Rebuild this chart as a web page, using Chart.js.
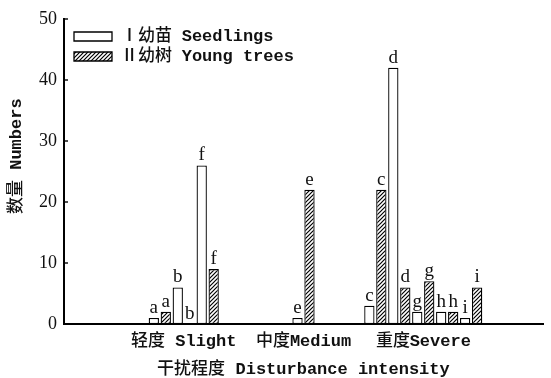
<!DOCTYPE html>
<html>
<head>
<meta charset="utf-8">
<script src="https://cdn.jsdelivr.net/npm/chart.js@4.4.1/dist/chart.umd.min.js"></script>
<style>
  /* Medium-weight CJK face served for bold requests, so bold Latin sits beside lighter Han glyphs */
  @font-face {
    font-family: 'HanMedium';
    src: local('Noto Sans CJK SC Medium'), local('NotoSansCJKsc-Medium'), local('Noto Sans CJK SC Regular'), local('NotoSansCJKsc-Regular');
    font-weight: 700;
  }
  html, body { margin: 0; padding: 0; background: #fff; }
  #wrap { width: 551px; height: 378px; }
</style>
</head>
<body>
<div id="wrap"><canvas id="c" width="551" height="378"></canvas></div>
<script>
// Slots along the x axis; each slot holds one seedling / young-tree pair.
const slots = ['', '', '', '', '', '轻度 Slight', '', '', '', '', '中度Medium', '', '', '', '', '重度Severe', '', '', '', '', ''];
const seedlings  = [null, null, null, null, 1, 6, 26, null, null, null, 1, null, null, 3, 42, 2, 2, 1, null, null, null];
const youngTrees = [null, null, null, null, 2, 0, 9, null, null, null, 22, null, null, 22, 6, 7, 2, 6, null, null, null];
const seedlingLetters  = ['', '', '', '', 'a', 'b', 'f', '', '', '', 'e', '', '', 'c', 'd', 'g', 'h', 'i', '', '', ''];
const youngTreeLetters = ['', '', '', '', 'a', 'b', 'f', '', '', '', 'e', '', '', 'c', 'd', 'g', 'h', 'i', '', '', ''];
const yTicks = [0, 10, 20, 30, 40, 50];

const seriesNames = ['Ⅰ幼苗 Seedlings', 'Ⅱ幼树 Young trees'];
const xTitle = '干扰程度 Disturbance intensity';
const yTitle = '   数量 Numbers';

const INK = '#111';
const mixedFont = "'Liberation Mono', 'HanMedium', 'Noto Sans CJK SC', monospace";
const serifFont = "'Liberation Serif', 'DejaVu Serif', serif";
const textFont = { family: mixedFont, size: 17, weight: 'bold' };

// Diagonal hatch used for the young-tree bars
function makeHatch() {
  const t = document.createElement('canvas');
  t.width = 4; t.height = 4;
  const g = t.getContext('2d');
  g.fillStyle = '#fff';
  g.fillRect(0, 0, 4, 4);
  g.strokeStyle = '#000';
  g.lineWidth = 1.2;
  g.beginPath();
  g.moveTo(0, 4); g.lineTo(4, 0);
  g.moveTo(-1, 1); g.lineTo(1, -1);
  g.moveTo(3, 5); g.lineTo(5, 3);
  g.stroke();
  return g.createPattern(t, 'repeat');
}

// Letters written above each bar
const letterPlugin = {
  id: 'barLetters',
  afterDatasetsDraw(chart) {
    const ctx = chart.ctx;
    ctx.save();
    ctx.font = '19px ' + serifFont;
    ctx.fillStyle = INK;
    ctx.textAlign = 'center';
    ctx.textBaseline = 'alphabetic';
    [seedlingLetters, youngTreeLetters].forEach((letters, di) => {
      const meta = chart.getDatasetMeta(di);
      meta.data.forEach((bar, i) => {
        if (letters[i] && Number.isFinite(bar.y)) ctx.fillText(letters[i], bar.x, bar.y - 5);
      });
    });
    ctx.restore();
  }
};

// Short inward tick marks on the value axis
const innerTicks = {
  id: 'innerTicks',
  afterDraw(chart) {
    const y = chart.scales.y;
    const ctx = chart.ctx;
    ctx.save();
    ctx.strokeStyle = '#000';
    ctx.lineWidth = 1.4;
    y.ticks.forEach(t => {
      const py = Math.round(y.getPixelForValue(t.value));
      ctx.beginPath();
      ctx.moveTo(chart.chartArea.left, py);
      ctx.lineTo(chart.chartArea.left + 4, py);
      ctx.stroke();
    });
    ctx.restore();
  }
};

// Place the legend block a little inside the plot corner
const legendOffset = {
  id: 'legendOffset',
  afterLayout(chart) {
    const lg = chart.legend;
    if (!lg) return;
    lg.left = chart.chartArea.left + 7;
    lg.top = chart.chartArea.top + 6;
  }
};

function drawChart() {
  new Chart(document.getElementById('c'), {
    type: 'bar',
    data: {
      labels: slots,
      datasets: [
        {
          label: seriesNames[0],
          data: seedlings,
          backgroundColor: '#fff',
          borderColor: '#000',
          borderWidth: 1.3,
          borderSkipped: false
        },
        {
          label: seriesNames[1],
          data: youngTrees,
          backgroundColor: makeHatch(),
          borderColor: '#000',
          borderWidth: 1.3,
          borderSkipped: false
        }
      ]
    },
    options: {
      responsive: false,
      animation: false,
      devicePixelRatio: 1,
      categoryPercentage: 1.0,
      barPercentage: 0.86,
      layout: { padding: { top: 19, right: 0, bottom: 0, left: 0 } },
      plugins: {
        tooltip: { enabled: false },
        legend: {
          position: 'chartArea',
          align: 'start',
          labels: {
            boxWidth: 38,
            boxHeight: 9,
            padding: 3,
            color: INK,
            font: textFont
          }
        }
      },
      scales: {
        x: {
          type: 'category',
          offset: false,
          grid: { display: false, drawTicks: false },
          border: { display: true, color: '#000', width: 2 },
          ticks: {
            autoSkip: false,
            maxRotation: 0,
            minRotation: 0,
            padding: 8,
            color: INK,
            font: textFont
          },
          title: {
            display: true,
            text: xTitle,
            color: INK,
            font: { ...textFont, lineHeight: 1.0 },
            padding: { top: 0, bottom: 0 }
          },
          afterFit(s) { s.height = 54; }
        },
        y: {
          min: 0,
          max: 50,
          afterBuildTicks(s) { s.ticks = yTicks.map(v => ({ value: v })); },
          grid: { display: false, drawTicks: false },
          border: { display: true, color: '#000', width: 2 },
          ticks: {
            padding: 7,
            color: INK,
            font: { family: serifFont, size: 18 }
          },
          title: {
            display: true,
            text: yTitle,
            color: INK,
            font: { ...textFont, lineHeight: 1.0 },
            padding: { top: 8, bottom: 0 }
          },
          afterFit(s) { s.width = 64; }
        }
      }
    },
    plugins: [letterPlugin, innerTicks, legendOffset]
  });
}

const fontReady = document.fonts && document.fonts.load
  ? document.fonts.load('bold 17px HanMedium', '幼苗树数量干扰程度轻中重').catch(() => null)
  : Promise.resolve();
fontReady.then(drawChart, drawChart);
</script>
</body>
</html>
